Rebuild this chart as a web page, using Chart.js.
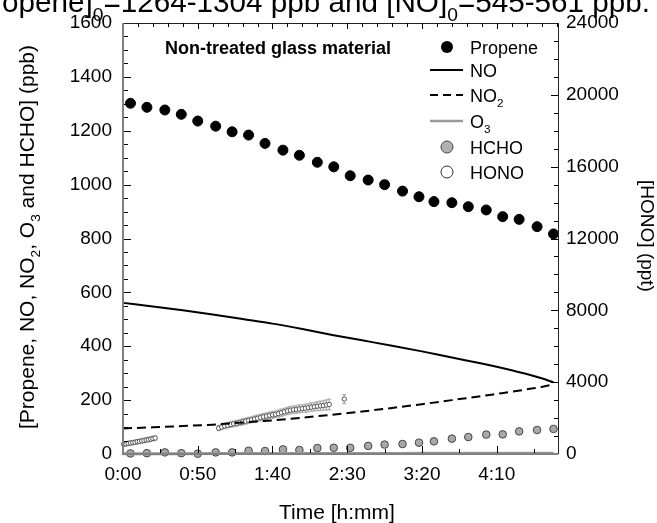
<!DOCTYPE html>
<html><head><meta charset="utf-8">
<script src="https://cdn.jsdelivr.net/npm/chart.js@4/dist/chart.umd.min.js"></script>
<style>html,body{margin:0;padding:0;background:#fff}canvas{display:block}</style>
</head><body>
<canvas id="c" width="657" height="523"></canvas>
<script>
// ---------- data (time in minutes) ----------
const xTickVals = [0, 50, 100, 150, 200, 250];
const xTickLabels = ['0:00', '0:50', '1:40', '2:30', '3:20', '4:10'];
const yTickVals = [0, 200, 400, 600, 800, 1000, 1200, 1400, 1600];
const y1TickVals = [0, 4000, 8000, 12000, 16000, 20000, 24000];

const sampleTime = [5,16,28,39,50,62,73,84,95,107,118,130,141,152,164,175,187,198,208,220,231,243,254,265,277,288];
const propene = [1302,1287,1277,1261,1236,1217,1196,1184,1153,1128,1109,1083,1066,1033,1017,1000,976,955,937,933,918,906,881,871,844,817];
const hcho = [2,3,6,3,1,6,6,12,11,17,15,22,23,23,30,35,37,42,47,57,63,72,73,84,89,93];

const lineTime = [0,20,40,60,80,100,120,140,160,180,200,220,240,250,260,270,280,288];
const no = [561,548,534,518,501,484,464,442,422,402,381,358,336,324,311,297,281,266];
const no2 = [95,99,104,109,117,125,135,146,158,171,185,200,215,223,231,240,249,258];
const o3 = [1,1,1,2,2,2,2,2,2,2,3,3,3,3,3,3,3,3];

const honoTime = [0.5,2,3.5,5,6.5,8,9.5,11,12.5,14,15.5,17,18.5,20,21.5,
  64,66,68,70,72,74,76,78,80,82,84,86,88,90,92,94,96,98,100,102,104,106,108,110,112,114,116,118,120,122,124,126,128,130,132,134,136,138,
  148];
const hono = [545,560,590,610,640,655,685,700,730,750,780,800,830,860,890,
  1440,1500,1560,1600,1640,1680,1710,1750,1790,1830,1870,1910,1950,1990,2030,2070,2110,2150,2180,2210,2250,2300,2350,2400,2440,2460,2480,2510,2530,2550,2580,2610,2630,2660,2680,2700,2730,2760,
  3060];
const honoErr = [110,100,110,120,110,100,120,110,110,120,110,120,110,120,120,
  140,140,150,140,150,150,160,150,160,160,170,160,170,170,180,170,180,180,190,180,190,200,190,200,210,200,210,220,210,230,220,240,230,250,260,260,280,300,
  250];

const FONT = '"Liberation Sans", Arial, Helvetica, sans-serif';
Chart.defaults.font.family = FONT;
Chart.defaults.font.size = 19;
Chart.defaults.color = '#000';

const pts = (xs, ys) => xs.map((x, i) => ({x: x, y: ys[i]}));

// rich text with subscripts: segs = [[text, isSub], ...]
function richWidth(ctx, segs, size, weight) {
  let w = 0;
  for (const [t, sub] of segs) {
    ctx.font = weight + ' ' + (sub ? size * 0.65 : size) + 'px ' + FONT;
    w += ctx.measureText(t).width;
  }
  return w;
}
function drawRich(ctx, segs, x, y, size, align, weight) {
  weight = weight || 'normal';
  const w = richWidth(ctx, segs, size, weight);
  let cx = align === 'center' ? x - w / 2 : (align === 'right' ? x - w : x);
  ctx.textAlign = 'left';
  ctx.textBaseline = 'alphabetic';
  for (const [t, sub] of segs) {
    ctx.font = weight + ' ' + (sub ? size * 0.65 : size) + 'px ' + FONT;
    ctx.fillText(t, cx, sub ? y + size * 0.3 : y);
    cx += ctx.measureText(t).width;
  }
}

const errorBars = {
  id: 'errorBars',
  beforeDatasetsDraw(chart) {
    const {ctx, scales: {x, y1}} = chart;
    ctx.save();
    ctx.strokeStyle = '#b0b0b0';
    ctx.lineWidth = 1.3;
    ctx.beginPath();
    honoTime.forEach((t, i) => {
      const px = x.getPixelForValue(t);
      const top = y1.getPixelForValue(hono[i] + honoErr[i]);
      const bot = y1.getPixelForValue(hono[i] - honoErr[i]);
      ctx.moveTo(px, top); ctx.lineTo(px, bot);
      ctx.moveTo(px - 2, top); ctx.lineTo(px + 2, top);
      ctx.moveTo(px - 2, bot); ctx.lineTo(px + 2, bot);
    });
    ctx.stroke();
    ctx.restore();
  }
};

const decor = {
  id: 'decor',
  afterDraw(chart) {
    const {ctx, chartArea: a, scales: {x, y, y1}} = chart;
    ctx.save();
    // frame
    ctx.lineWidth = 1;
    ctx.strokeStyle = '#222';
    ctx.beginPath();
    ctx.moveTo(a.left, a.top + 0.5); ctx.lineTo(a.right, a.top + 0.5);
    ctx.moveTo(a.right + 0.5, a.top); ctx.lineTo(a.right + 0.5, a.bottom);
    ctx.stroke();
    ctx.strokeStyle = '#808080';
    ctx.lineWidth = 2;
    ctx.beginPath();
    ctx.moveTo(a.left, a.top); ctx.lineTo(a.left, a.bottom + 1);
    ctx.moveTo(a.left, a.bottom); ctx.lineTo(a.right, a.bottom);
    ctx.stroke();
    // ticks
    ctx.strokeStyle = '#000';
    ctx.lineWidth = 1;
    ctx.beginPath();
    for (let v = 50; v < 1600; v += 50) {
      const py = Math.round(y.getPixelForValue(v)) + 0.5;
      const len = v % 200 === 0 ? 7 : 4;
      ctx.moveTo(a.left + 1, py); ctx.lineTo(a.left + 1 + len, py);
    }
    for (let v = 1000; v < 24000; v += 1000) {
      const py = Math.round(y1.getPixelForValue(v)) + 0.5;
      const len = v % 4000 === 0 ? 7 : 4;
      ctx.moveTo(a.right, py); ctx.lineTo(a.right - len, py);
    }
    for (let v = 25; v < 291; v += 25) {
      const px = Math.round(x.getPixelForValue(v)) + 0.5;
      const len = v % 50 === 0 ? 7 : 4;
      ctx.moveTo(px, a.bottom - 1); ctx.lineTo(px, a.bottom - 1 - len);
    }
    for (let v = 10; v < 291; v += 10) {
      const px = Math.round(x.getPixelForValue(v)) + 0.5;
      const len = v % 50 === 0 ? 6 : 4;
      ctx.moveTo(px, a.top); ctx.lineTo(px, a.top + len);
    }
    ctx.stroke();

    ctx.fillStyle = '#000';
    // cut-off title at top
    const titleSegs = [['[Propene]', false], ['0', true], ['=1264-1304 ppb and [NO]', false], ['0', true], ['=545-561 ppb.', false]];
    const visSegs = [['opene]', false], ['0', true], ['=1264-1304 ppb and [NO]', false], ['0', true], ['=545-561 ppb.', false]];
    const tSize = 648 / richWidth(ctx, visSegs, 1, 'normal');
    drawRich(ctx, titleSegs, 650, 12, tSize, 'right');

    // annotation
    ctx.font = 'bold 18px ' + FONT;
    ctx.textAlign = 'left';
    ctx.textBaseline = 'alphabetic';
    ctx.fillText('Non-treated glass material', 165, 54);

    // legend
    const lx0 = 430, lx1 = 463, sx = 447, tx = 470;
    const rows = [47, 70, 95, 121, 147, 172];
    ctx.beginPath(); ctx.arc(sx, rows[0], 6, 0, Math.PI * 2);
    ctx.fillStyle = '#000'; ctx.fill();
    ctx.strokeStyle = '#000'; ctx.lineWidth = 2;
    ctx.beginPath(); ctx.moveTo(lx0, rows[1]); ctx.lineTo(lx1, rows[1]); ctx.stroke();
    ctx.setLineDash([8, 5]);
    ctx.beginPath(); ctx.moveTo(lx0, rows[2]); ctx.lineTo(lx1, rows[2]); ctx.stroke();
    ctx.setLineDash([]);
    ctx.strokeStyle = '#999'; ctx.lineWidth = 2.5;
    ctx.beginPath(); ctx.moveTo(lx0, rows[3]); ctx.lineTo(lx1, rows[3]); ctx.stroke();
    ctx.lineWidth = 1;
    ctx.beginPath(); ctx.arc(sx, rows[4], 6, 0, Math.PI * 2);
    ctx.fillStyle = '#b0b0b0'; ctx.fill(); ctx.strokeStyle = '#444'; ctx.stroke();
    ctx.beginPath(); ctx.arc(sx, rows[5], 6, 0, Math.PI * 2);
    ctx.fillStyle = '#fff'; ctx.fill(); ctx.strokeStyle = '#333'; ctx.stroke();

    ctx.fillStyle = '#000';
    const legSegs = [
      [['Propene', false]],
      [['NO', false]],
      [['NO', false], ['2', true]],
      [['O', false], ['3', true]],
      [['HCHO', false]],
      [['HONO', false]]
    ];
    legSegs.forEach((s, i) => drawRich(ctx, s, tx, rows[i] + 6.5, 18, 'left'));

    // x axis title
    ctx.font = '21px ' + FONT;
    ctx.textAlign = 'center';
    ctx.textBaseline = 'alphabetic';
    ctx.fillText('Time [h:mm]', 337, 519);

    // left axis title
    ctx.save();
    ctx.translate(34, 237);
    ctx.rotate(-Math.PI / 2);
    drawRich(ctx, [['[Propene, NO, NO', false], ['2', true], [', O', false], ['3', true], [' and HCHO] (ppb)', false]], 0, 0, 21, 'center');
    ctx.restore();

    // right axis title
    ctx.save();
    ctx.translate(641, 236);
    ctx.rotate(Math.PI / 2);
    ctx.font = '19px ' + FONT;
    ctx.textAlign = 'center';
    ctx.textBaseline = 'alphabetic';
    ctx.fillText('[HONO] (ppt)', 0, 0);
    ctx.restore();

    ctx.restore();
  }
};

new Chart(document.getElementById('c'), {
  type: 'scatter',
  data: {
    datasets: [
      {label: 'Propene', data: pts(sampleTime, propene), yAxisID: 'y', showLine: false,
       pointRadius: 5, backgroundColor: '#000', borderColor: '#000', borderWidth: 1},
      {label: 'NO', data: pts(lineTime, no), yAxisID: 'y', showLine: true, pointRadius: 0,
       borderColor: '#000', borderWidth: 2, cubicInterpolationMode: 'monotone'},
      {label: 'NO2', data: pts(lineTime, no2), yAxisID: 'y', showLine: true, pointRadius: 0,
       borderColor: '#000', borderWidth: 2, borderDash: [9, 5], cubicInterpolationMode: 'monotone'},
      {label: 'O3', data: pts(lineTime, o3), yAxisID: 'y', showLine: true, pointRadius: 0,
       borderColor: '#999', borderWidth: 3},
      {label: 'HCHO', data: pts(sampleTime, hcho), yAxisID: 'y', showLine: false,
       pointRadius: 3.8, backgroundColor: '#a8a8a8', borderColor: '#444', borderWidth: 1},
      {label: 'HONO', data: pts(honoTime, hono), yAxisID: 'y1', showLine: false,
       pointRadius: 2.2, backgroundColor: '#fff', borderColor: '#555', borderWidth: 1}
    ]
  },
  options: {
    responsive: false,
    animation: false,
    clip: false,
    layout: {padding: {top: 23, left: 0, right: 0, bottom: 0}},
    plugins: {legend: {display: false}, tooltip: {enabled: false}},
    scales: {
      x: {
        type: 'linear', position: 'bottom', min: 0, max: 291,
        afterBuildTicks: s => { s.ticks = xTickVals.map(v => ({value: v})); },
        afterFit: s => { s.height = 69; },
        ticks: {autoSkip: false, maxRotation: 0, padding: 9, color: '#000', font: {size: 19},
                callback: (v, i) => xTickLabels[i]},
        grid: {display: false, drawTicks: false},
        border: {display: false}
      },
      y: {
        position: 'left', min: 0, max: 1600,
        afterBuildTicks: s => { s.ticks = yTickVals.map(v => ({value: v})); },
        afterFit: s => { s.width = 123; },
        ticks: {padding: 11, color: '#000', font: {size: 19}, callback: v => String(v)},
        grid: {display: false, drawTicks: false},
        border: {display: false}
      },
      y1: {
        position: 'right', min: 0, max: 24000,
        afterBuildTicks: s => { s.ticks = y1TickVals.map(v => ({value: v})); },
        afterFit: s => { s.width = 99; },
        ticks: {padding: 8, color: '#000', font: {size: 19}, callback: v => String(v)},
        grid: {display: false, drawTicks: false},
        border: {display: false}
      }
    }
  },
  plugins: [errorBars, decor]
});
</script>
</body></html>
